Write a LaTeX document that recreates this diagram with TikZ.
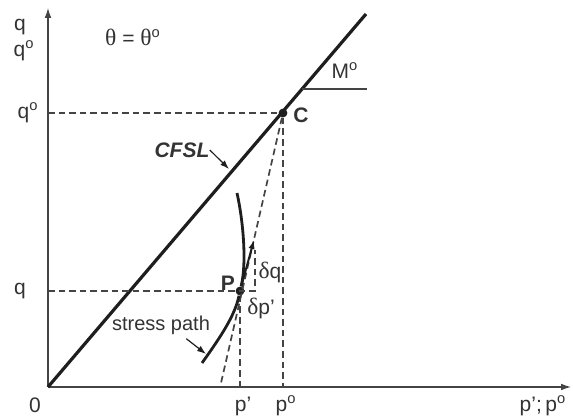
\documentclass[tikz,border=0pt]{standalone}
\usepackage{fontspec}
\setmainfont{Liberation Sans}
\newfontfamily\greekfont[Scale=1.12]{Liberation Serif}
\usetikzlibrary{arrows.meta,positioning,calc}
\definecolor{AxisGrey}{HTML}{444444}
\definecolor{LineDark}{HTML}{1E1E1E}
\definecolor{TextGrey}{HTML}{333333}
\newcommand{\supo}{\textsuperscript{o}}

\begin{document}
\begin{tikzpicture}[x=0.5pt,y=-0.5pt,
    every node/.style={font=\fontsize{10.5}{12}\selectfont,text=TextGrey,inner sep=0pt},
    axis/.style={-{Latex[length=5pt,width=3.4pt]},AxisGrey,line width=0.6pt},
    csl/.style={LineDark,line width=1.6pt},
    guide/.style={AxisGrey,line width=0.85pt,dash pattern=on 3.3pt off 2pt},
    thin/.style={AxisGrey,line width=0.6pt},
    dot/.style={circle,fill=LineDark,minimum size=4.4pt,inner sep=0pt},
    lbl/.style={font=\fontsize{10.5}{12}\selectfont\bfseries},
    pointer/.style={-{Latex[length=4.5pt,width=3.2pt]},LineDark,line width=0.6pt}
  ]
    \useasboundingbox (0,0) rectangle (573,416);
    % axes
    \coordinate (O) at (48,387);
    \coordinate (xend) at (571,387);
    \coordinate (yend) at (48,8);
    \draw[axis] (O) -- (xend);
    \draw[axis] (O) -- (yend);
    % critical state line
    \coordinate (cfslend) at (366,14);
    \draw[csl] (O) -- (cfslend);
    \coordinate (mstart) at (302,89);
    \coordinate (mend) at (367,89);
    \draw[thin] (mstart) -- (mend);
    \node (mlbl) at (345,71) {M\supo};
    % points
    \node[dot] (C) at (283,113) {};
    \node[dot] (P) at (240,291) {};
    \node[lbl] (clbl) at (301,115) {C};
    \node[lbl] (plbl) at (228,283) {P};
    % dashed guides
    \coordinate (qoaxis) at (48,113);
    \coordinate (poaxis) at (283,387);
    \coordinate (qaxis) at (48,291);
    \coordinate (paxis) at (240,387);
    \coordinate (dcorner) at (255,291);
    \coordinate (dtop) at (255,250);
    \coordinate (tanend) at (221,383);
    \draw[guide] (qoaxis) -- (C);
    \draw[guide] (C) -- (poaxis);
    \draw[guide] (qaxis) -- (dcorner) -- (dtop);
    \draw[guide] (P) -- (paxis);
    \draw[guide] (C) -- (tanend);
    % stress path
    \coordinate (spstart) at (202,363);
    \coordinate (spend) at (237,193);
    \draw[csl,line width=1.4pt] (spstart) .. controls (222,335) and (235,315) .. (P)
      .. controls (247,262) and (243,220) .. (spend);
    \coordinate (dtip) at (254,240);
    \draw[pointer,line width=1pt] (P) -- (dtip);
    \node (dq) at (270,272) {{\greekfont δ}q};
    \node (dp) at (261,308) {{\greekfont δ}p’};
    % labels
    \node[font=\fontsize{10.5}{12}\selectfont\bfseries\itshape] (cfsl) at (182,150) {CFSL};
    \coordinate (cfsltip) at (229,169);
    \draw[pointer] (cfsl.east) -- (cfsltip);
    \node[font=\fontsize{10}{12}\selectfont] (sp) at (161,325) {stress path};
    \coordinate (sptip) at (206,354);
    \draw[pointer] (sp.south east) ++(-24,4) coordinate (spfrom) (spfrom) -- (sptip);
    \node (theta) at (133,37) {{\greekfont θ} = {\greekfont θ}\supo};
    \node (qtop) at (20,27) {q};
    \node (qotop) at (24,51) {q\supo};
    \node (qo) at (28,113) {q\supo};
    \node (q) at (20,291) {q};
    \node (zero) at (35,405) {0};
    \node (p) at (243,406) {p’};
    \node (po) at (286,406) {p\supo};
    \node (ppo) at (543,406) {p’;\,p\supo};
  \end{tikzpicture}
\end{document}
